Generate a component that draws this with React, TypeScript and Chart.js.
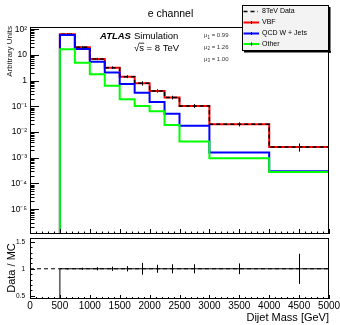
import { useEffect, useRef } from 'react';
import { Chart, registerables } from 'chart.js';

Chart.register(...registerables);

const FONT = '"Liberation Sans", Arial, Helvetica, sans-serif';

// ---- data ----
const binEdges = [0, 500, 750, 1000, 1250, 1500, 1750, 2000, 2250, 2500, 3000, 4000, 5000];
const dataValues = [0, 64, 20, 7.0, 3.2, 1.43, 0.79, 0.40, 0.22, 0.104, 0.020, 0.0026];
const vbfValues = [0, 64, 20, 7.0, 3.2, 1.43, 0.79, 0.40, 0.22, 0.104, 0.020, 0.0026];
const qcdValues = [0, 60, 17, 5.5, 2.1, 0.74, 0.34, 0.148, 0.052, 0.0177, 0.0016, 0.00030];
const otherValues = [0, 16.7, 5.0, 1.8, 0.64, 0.19, 0.104, 0.065, 0.019, 0.0043, 0.00096, 0.00028];
const ratioValues = [0, 1, 1, 1, 1, 1, 1, 1, 1, 1, 1, 1];
const ratioErrors = [0, 0.004, 0.01, 0.02, 0.03, 0.04, 0.10, 0.065, 0.075, 0.075, 0.09, 0.27];
const logTickValues = [1e-5, 1e-4, 1e-3, 1e-2, 1e-1, 1, 10, 100];
const ratioTickValues = [0.5, 1, 1.5];
const massTickValues = [0, 500, 1000, 1500, 2000, 2500, 3000, 3500, 4000, 4500, 5000];
const legendLabels = ['8TeV Data', 'VBF', 'QCD W + Jets', 'Other'];
const muLabels = [['1', '0.99'], ['2', '1.26'], ['3', '1.00']];

const Y_MIN = 1.08e-6;
const Y_MAX = 123;
const R_MIN = 0.44;
const R_MAX = 1.57;
const X_MIN = 0;
const X_MAX = 5000;

const SUP: Record<string, string> = {
  '-': '\u207B', '0': '\u2070', '1': '\u00B9', '2': '\u00B2', '3': '\u00B3',
  '4': '\u2074', '5': '\u2075', '6': '\u2076', '7': '\u2077', '8': '\u2078', '9': '\u2079',
};

function logLabel(v: number): string {
  const e = Math.round(Math.log10(v));
  if (e === 0) return '1';
  if (e === 1) return '10';
  return '10' + String(e).split('').map((c) => SUP[c]).join('');
}

function histPoints(edges: number[], vals: number[], floor: number) {
  const pts: { x: number; y: number }[] = [];
  for (let i = 0; i < vals.length; i++) {
    pts.push({ x: edges[i], y: vals[i] > 0 ? vals[i] : floor });
  }
  const last = vals[vals.length - 1];
  pts.push({ x: edges[edges.length - 1], y: last > 0 ? last : floor });
  return pts;
}

function line(ctx: CanvasRenderingContext2D, x1: number, y1: number, x2: number, y2: number) {
  ctx.beginPath();
  ctx.moveTo(x1, y1);
  ctx.lineTo(x2, y2);
  ctx.stroke();
}

const topPlugin = {
  id: 'topDecor',
  afterDatasetsDraw(chart: any) {
    const { ctx, chartArea: a, scales } = chart;
    const x = scales.x;
    const y = scales.y;
    ctx.save();
    ctx.strokeStyle = '#000';
    ctx.lineWidth = 1;
    ctx.setLineDash([]);
    // x ticks (inward)
    ctx.beginPath();
    for (let v = X_MIN; v <= X_MAX; v += 100) {
      const px = Math.round(x.getPixelForValue(v)) + 0.5;
      const len = v % 500 === 0 ? 5 : 2.5;
      ctx.moveTo(px, a.bottom);
      ctx.lineTo(px, a.bottom - len);
    }
    // log y ticks
    for (let d = -7; d <= 3; d++) {
      for (let m = 1; m <= 9; m++) {
        const v = m * Math.pow(10, d);
        if (v < Y_MIN || v > Y_MAX) continue;
        const py = Math.round(y.getPixelForValue(v)) + 0.5;
        const len = m === 1 ? 9 : 4.5;
        ctx.moveTo(a.left, py);
        ctx.lineTo(a.left + len, py);
      }
    }
    ctx.stroke();
    // frame
    ctx.strokeRect(a.left + 0.5, a.top + 0.5, a.width - 1, a.height - 1);

    // data error bars
    ctx.beginPath();
    for (let i = 0; i < dataValues.length; i++) {
      const v = dataValues[i];
      const e = ratioErrors[i];
      if (v <= 0 || e <= 0) continue;
      const cx = Math.round(x.getPixelForValue((binEdges[i] + binEdges[i + 1]) / 2)) + 0.5;
      ctx.moveTo(cx, y.getPixelForValue(v * (1 - e)) + 1);
      ctx.lineTo(cx, y.getPixelForValue(v * (1 + e)) - 1);
    }
    ctx.stroke();

    // title
    ctx.fillStyle = '#000';
    ctx.textBaseline = 'alphabetic';
    ctx.textAlign = 'center';
    ctx.font = `10.5px ${FONT}`;
    ctx.fillText('e channel', 170.5, 17);

    // ATLAS Simulation
    ctx.textAlign = 'left';
    ctx.font = `italic bold 9.5px ${FONT}`;
    ctx.fillText('ATLAS', 100, 38.5);
    ctx.font = `9.5px ${FONT}`;
    ctx.fillText('Simulation', 134, 38.5);
    // sqrt(s) = 8 TeV
    const sqrtText = '\u221As = 8 TeV';
    ctx.textAlign = 'right';
    ctx.fillText(sqrtText, 179, 50.5);
    const wAll = ctx.measureText(sqrtText).width;
    const wRoot = ctx.measureText('\u221A').width;
    const wS = ctx.measureText('s').width;
    const sx = 179 - wAll + wRoot;
    ctx.lineWidth = 0.8;
    line(ctx, sx - 0.5, 43.2, sx + wS + 0.3, 43.2);
    ctx.lineWidth = 1;

    // mu labels
    ctx.textAlign = 'left';
    muLabels.forEach(([sub, val], i) => {
      const by = 37 + i * 11.8;
      let px = 204;
      ctx.font = `6px ${FONT}`;
      ctx.fillStyle = '#333';
      ctx.fillText('\u03BC', px, by);
      px += ctx.measureText('\u03BC').width;
      ctx.font = `4.5px ${FONT}`;
      ctx.fillText(sub, px, by + 1.5);
      px += ctx.measureText(sub).width;
      ctx.font = `6px ${FONT}`;
      ctx.fillText(' = ' + val, px, by);
    });
    ctx.fillStyle = '#000';

    // y-axis title
    ctx.save();
    ctx.translate(9.5, 26);
    ctx.rotate(-Math.PI / 2);
    ctx.textAlign = 'right';
    ctx.textBaseline = 'middle';
    ctx.font = `8px ${FONT}`;
    ctx.fillStyle = '#222';
    ctx.fillText('Arbitrary Units', 0, 0);
    ctx.restore();

    // legend
    const lx = 242, ly = 5, lw = 87, lh = 46;
    ctx.fillStyle = '#000';
    ctx.fillRect(lx + 2, ly + lh, lw, 1.5);
    ctx.fillRect(lx + lw, ly + 2, 1.5, lh);
    ctx.fillStyle = '#f3f3f3';
    ctx.fillRect(lx, ly, lw, lh);
    ctx.strokeStyle = '#000';
    ctx.strokeRect(lx + 0.5, ly + 0.5, lw - 1, lh - 1);
    const rows = [11.5, 22.5, 33.5, 44];
    const colors = ['#000000', '#ff0000', '#0000ff', '#00ff00'];
    legendLabels.forEach((lab, i) => {
      const ry = rows[i];
      ctx.strokeStyle = colors[i];
      if (i === 0) {
        ctx.lineWidth = 1.5;
        ctx.setLineDash([4, 3]);
        line(ctx, 243.5, ry, 258, ry);
        ctx.setLineDash([]);
      } else {
        ctx.lineWidth = 2;
        line(ctx, 243.5, ry, 259, ry);
        ctx.lineWidth = 1;
        ctx.strokeStyle = '#000';
        line(ctx, 251.5, ry - 1.5, 251.5, ry + 1.5);
      }
      ctx.lineWidth = 1;
      ctx.fillStyle = '#000';
      ctx.font = `7px ${FONT}`;
      ctx.textAlign = 'left';
      ctx.textBaseline = 'middle';
      ctx.fillText(lab, 262, ry);
    });
    ctx.restore();
  },
};

const ratioPlugin = {
  id: 'ratioDecor',
  afterDatasetsDraw(chart: any) {
    const { ctx, chartArea: a, scales } = chart;
    const x = scales.x;
    const y = scales.y;
    ctx.save();
    ctx.strokeStyle = '#000';
    ctx.lineWidth = 1;
    ctx.setLineDash([]);
    ctx.beginPath();
    for (let v = X_MIN; v <= X_MAX; v += 100) {
      const px = Math.round(x.getPixelForValue(v)) + 0.5;
      const len = v % 500 === 0 ? 4 : 2;
      ctx.moveTo(px, a.bottom);
      ctx.lineTo(px, a.bottom - len);
    }
    for (let k = 5; k <= 15; k++) {
      const v = k / 10;
      const py = Math.round(y.getPixelForValue(v)) + 0.5;
      const len = k % 5 === 0 ? 5 : 2.5;
      ctx.moveTo(a.left, py);
      ctx.lineTo(a.left + len, py);
    }
    ctx.stroke();
    ctx.strokeRect(a.left + 0.5, a.top + 0.5, a.width - 1, a.height - 1);

    // error bars
    ctx.beginPath();
    for (let i = 0; i < ratioValues.length; i++) {
      const v = ratioValues[i];
      const e = ratioErrors[i];
      if (v <= 0 || e <= 0) continue;
      const cx = Math.round(x.getPixelForValue((binEdges[i] + binEdges[i + 1]) / 2)) + 0.5;
      ctx.moveTo(cx, y.getPixelForValue(v - e) + 0.5);
      ctx.lineTo(cx, y.getPixelForValue(v + e) - 0.5);
    }
    ctx.stroke();

    // titles
    ctx.fillStyle = '#000';
    ctx.save();
    ctx.translate(12, 32);
    ctx.rotate(-Math.PI / 2);
    ctx.textAlign = 'center';
    ctx.textBaseline = 'middle';
    ctx.font = `11px ${FONT}`;
    ctx.fillText('Data / MC', 0, 0);
    ctx.restore();

    ctx.textAlign = 'right';
    ctx.textBaseline = 'alphabetic';
    ctx.font = `11px ${FONT}`;
    ctx.fillText('Dijet Mass [GeV]', 329, 85);
    ctx.restore();
  },
};

function topConfig(): any {
  const ds = (label: string, vals: number[], color: string, width: number, dash?: number[]) => ({
    label,
    data: histPoints(binEdges, vals, Y_MIN),
    borderColor: color,
    borderWidth: width,
    borderDash: dash || [],
    stepped: 'before',
    pointRadius: 0,
    fill: false,
    tension: 0,
  });
  return {
    type: 'line',
    data: {
      datasets: [
        ds('Other', otherValues, '#00ff00', 2),
        ds('QCD W + Jets', qcdValues, '#0000ff', 2),
        ds('8TeV Data', dataValues, '#000000', 1.5, [4, 3]),
        ds('VBF', vbfValues, '#ff0000', 2),
      ],
    },
    options: {
      animation: false,
      responsive: false,
      maintainAspectRatio: false,
      events: [],
      layout: { padding: { left: 0, right: 11, top: 27, bottom: 2 } },
      plugins: { legend: { display: false }, tooltip: { enabled: false }, title: { display: false } },
      scales: {
        x: { type: 'linear', min: X_MIN, max: X_MAX, display: false },
        y: {
          type: 'logarithmic',
          min: Y_MIN,
          max: Y_MAX,
          grid: { display: false, drawTicks: false },
          border: { display: false },
          ticks: {
            color: '#000',
            padding: 3,
            autoSkip: false,
            font: { family: FONT, size: 8.5 },
            callback: (v: any) => logLabel(Number(v)),
          },
          afterBuildTicks: (s: any) => {
            s.ticks = logTickValues.map((v) => ({ value: v }));
          },
          afterFit: (s: any) => {
            s.width = 30;
            s.paddingTop = 0;
            s.paddingBottom = 0;
          },
        },
      },
    },
    plugins: [topPlugin],
  };
}

function ratioConfig(): any {
  return {
    type: 'line',
    data: {
      datasets: [
        {
          label: 'unity',
          data: [{ x: X_MIN, y: 1 }, { x: X_MAX, y: 1 }],
          borderColor: '#000',
          borderWidth: 1,
          borderDash: [4, 3],
          pointRadius: 0,
          fill: false,
        },
        {
          label: 'Data / MC',
          data: histPoints(binEdges, ratioValues, 0),
          borderColor: '#000',
          borderWidth: 1,
          stepped: 'before',
          pointRadius: 0,
          fill: false,
        },
      ],
    },
    options: {
      animation: false,
      responsive: false,
      maintainAspectRatio: false,
      events: [],
      layout: { padding: { left: 0, right: 11, top: 2, bottom: 0 } },
      plugins: { legend: { display: false }, tooltip: { enabled: false }, title: { display: false } },
      scales: {
        x: {
          type: 'linear',
          min: X_MIN,
          max: X_MAX,
          grid: { display: false, drawTicks: false },
          border: { display: false },
          ticks: {
            color: '#000',
            padding: 1,
            autoSkip: false,
            maxRotation: 0,
            minRotation: 0,
            font: { family: FONT, size: 10 },
            callback: (v: any) => String(v),
          },
          afterBuildTicks: (s: any) => {
            s.ticks = massTickValues.map((v) => ({ value: v }));
          },
          afterFit: (s: any) => {
            s.height = 26;
            s.paddingLeft = 0;
            s.paddingRight = 0;
          },
        },
        y: {
          type: 'linear',
          min: R_MIN,
          max: R_MAX,
          grid: { display: false, drawTicks: false },
          border: { display: false },
          ticks: {
            color: '#000',
            padding: 5,
            autoSkip: false,
            font: { family: FONT, size: 6.5 },
            callback: (v: any) => String(v),
          },
          afterBuildTicks: (s: any) => {
            s.ticks = ratioTickValues.map((v) => ({ value: v }));
          },
          afterFit: (s: any) => {
            s.width = 30;
            s.paddingTop = 0;
            s.paddingBottom = 0;
          },
        },
      },
    },
    plugins: [ratioPlugin],
  };
}

export default function App() {
  const topRef = useRef<HTMLCanvasElement>(null);
  const botRef = useRef<HTMLCanvasElement>(null);
  useEffect(() => {
    const c1 = new Chart(topRef.current as HTMLCanvasElement, topConfig());
    const c2 = new Chart(botRef.current as HTMLCanvasElement, ratioConfig());
    return () => {
      c1.destroy();
      c2.destroy();
    };
  }, []);
  return (
    <div style={{ position: 'absolute', left: 0, top: 0, width: 340, height: 325, background: '#fff' }}>
      <canvas
        ref={topRef}
        width={340}
        height={236}
        style={{ position: 'absolute', left: 0, top: 0, width: 340, height: 236 }}
      />
      <canvas
        ref={botRef}
        width={340}
        height={89}
        style={{ position: 'absolute', left: 0, top: 236, width: 340, height: 89 }}
      />
    </div>
  );
}
